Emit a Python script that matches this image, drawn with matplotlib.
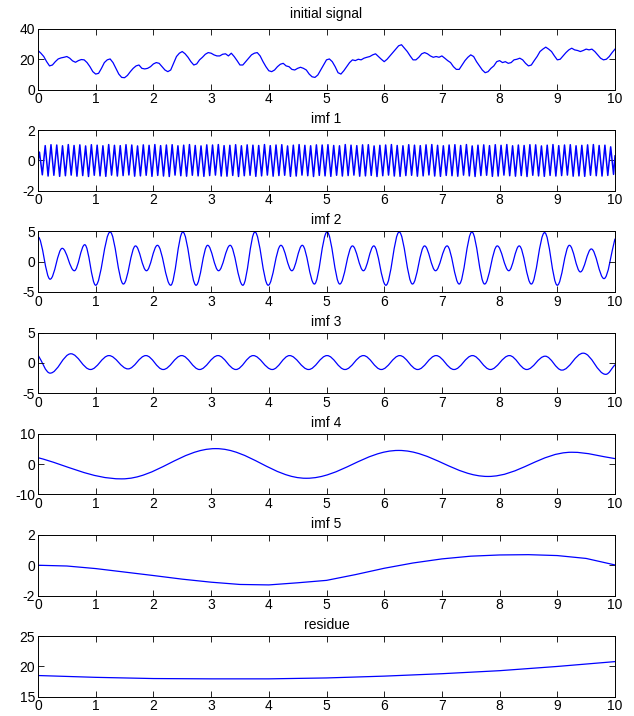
import numpy as np
import matplotlib
matplotlib.use("Agg")
import matplotlib.pyplot as plt
from matplotlib.path import Path
from matplotlib.patches import PathPatch

# ── Data ─────────────────────────────────────────────────────────────
# initial signal, sampled every 0.05 s
SIG_T = np.linspace(0, 10, 201)
SIG_V = [
    25.8, 24.0, 21.8, 18.4, 15.6, 16.2, 18.4, 20.2, 20.9, 21.3,
    21.8, 20.7, 18.9, 18.0, 19.1, 19.8, 19.6, 17.8, 15.1, 11.8,
    10.2, 10.7, 14.0, 17.8, 19.6, 20.2, 17.8, 14.0, 10.2, 8.0,
    7.8, 9.3, 11.8, 14.0, 15.6, 16.2, 14.0, 13.6, 14.0, 15.1,
    16.9, 17.8, 17.3, 15.1, 12.9, 11.8, 12.9, 17.3, 21.8, 24.0,
    25.1, 23.6, 21.3, 18.4, 16.2, 16.9, 19.6, 21.3, 23.3, 24.4,
    24.0, 22.9, 22.2, 22.2, 23.3, 23.6, 22.2, 24.0, 21.8, 19.1,
    16.2, 16.2, 18.4, 20.7, 22.9, 24.0, 24.4, 22.2, 18.4, 15.1,
    12.4, 11.8, 12.9, 15.1, 16.7, 17.3, 15.6, 15.1, 13.3, 12.9,
    14.0, 14.7, 14.0, 12.9, 10.2, 8.4, 8.0, 9.6, 12.9, 16.2,
    19.6, 20.2, 18.4, 15.1, 11.1, 10.2, 12.4, 15.1, 17.8, 19.6,
    19.1, 20.0, 19.6, 20.7, 21.3, 21.8, 22.9, 23.6, 21.8, 20.0,
    18.4, 20.0, 22.2, 24.4, 26.7, 28.9, 29.6, 27.3, 25.1, 22.2,
    19.6, 19.6, 21.3, 23.6, 24.4, 23.6, 22.2, 21.3, 21.8, 21.3,
    22.2, 20.7, 19.1, 17.8, 15.1, 13.3, 13.3, 16.2, 19.1, 21.3,
    22.9, 21.8, 18.4, 15.6, 12.9, 11.1, 11.8, 14.0, 15.6, 18.4,
    19.1, 17.8, 18.4, 17.3, 17.8, 19.6, 20.0, 20.7, 19.6, 17.3,
    15.6, 16.2, 19.1, 21.8, 25.1, 26.7, 28.0, 26.7, 25.1, 22.2,
    19.6, 20.0, 22.2, 24.4, 26.2, 27.3, 26.2, 25.8, 25.1, 25.8,
    26.7, 26.2, 26.7, 25.1, 22.9, 20.7, 19.6, 20.0, 21.8, 24.4,
    26.7,
]

# imf 1: alternating peak / trough values, one extremum every 0.05 s
IMF1_T = np.arange(200) * 0.05 + 0.025
IMF1_PEAKS = [
    0.55, 0.98, 1.04, 1.02, 0.97, 1.05, 0.99, 1.03, 0.96, 1.04,
    1.01, 0.97, 1.05, 1.00, 0.98, 1.04, 1.02, 0.96, 1.03, 1.00,
    1.05, 0.98, 1.02, 1.04, 0.97, 1.01, 1.05, 0.99, 0.96, 1.03,
    1.02, 1.05, 0.98, 1.00, 1.04, 0.97, 1.03, 1.01, 0.99, 1.05,
    0.98, 1.02, 1.04, 0.96, 1.01, 1.05, 1.00, 0.97, 1.03, 1.02,
    1.04, 0.99, 0.97, 1.05, 1.01, 0.98, 1.03, 1.04, 0.96, 1.00,
    1.02, 1.05, 0.99, 0.97, 1.04, 1.01, 0.98, 1.03, 1.05, 1.00,
    0.97, 1.02, 1.04, 0.99, 1.05, 0.96, 1.01, 1.03, 0.98, 1.04,
    1.00, 1.05, 0.97, 1.02, 0.99, 1.04, 1.03, 0.96, 1.01, 1.05,
    0.98, 1.02, 1.04, 0.97, 1.00, 1.03, 1.05, 0.99, 1.01, 0.90,
]
IMF1_TROUGHS = [
    -0.95, -1.03, -0.98, -1.05, -1.01, -0.97, -1.04, -1.00, -1.06, -0.98,
    -1.02, -1.05, -0.97, -1.03, -1.00, -0.96, -1.04, -1.02, -0.98, -1.05,
    -0.99, -1.03, -1.06, -0.97, -1.01, -1.04, -0.98, -1.02, -1.05, -1.00,
    -0.97, -1.03, -1.04, -0.99, -1.06, -1.01, -0.98, -1.05, -1.02, -0.97,
    -1.04, -1.00, -0.98, -1.05, -1.03, -0.97, -1.01, -1.06, -0.99, -1.02,
    -1.05, -0.98, -1.03, -1.00, -0.97, -1.04, -1.02, -0.99, -1.06, -1.01,
    -0.97, -1.03, -1.05, -1.00, -0.98, -1.04, -1.02, -0.96, -1.03, -1.05,
    -0.99, -1.01, -1.04, -0.97, -1.02, -1.06, -1.00, -0.98, -1.05, -1.03,
    -0.97, -1.01, -1.04, -1.00, -1.06, -0.98, -1.02, -1.05, -0.99, -1.03,
    -1.00, -0.97, -1.04, -1.02, -1.05, -0.98, -1.01, -1.03, -0.99, -0.92,
]

# imf 2: extrema (time, value) plus the two end points
IMF2_T = [0.00, 0.21, 0.42, 0.63, 0.81, 1.00, 1.25, 1.48, 1.69, 1.88,
          2.07, 2.30, 2.51, 2.74, 2.94, 3.13, 3.33, 3.55, 3.76, 3.99,
          4.21, 4.40, 4.58, 4.79, 5.01, 5.23, 5.45, 5.64, 5.82, 6.03,
          6.26, 6.49, 6.70, 6.89, 7.09, 7.30, 7.52, 7.74, 7.96, 8.16,
          8.34, 8.55, 8.78, 9.00, 9.21, 9.40, 9.59, 9.81, 10.0]
IMF2_V = [4.1, -2.9, 2.2, -1.5, 2.8, -3.9, 4.9, -3.7, 2.6, -1.5,
          2.7, -3.9, 4.9, -3.9, 2.7, -1.5, 2.7, -3.9, 4.9, -3.9,
          2.7, -1.5, 2.7, -3.7, 4.9, -3.7, 2.6, -1.5, 2.6, -3.9,
          4.9, -3.7, 2.6, -1.5, 2.6, -3.7, 4.9, -3.7, 2.6, -1.5,
          2.6, -3.7, 4.8, -3.9, 2.7, -1.7, 2.1, -2.8, 3.8]

# imf 3
IMF3_T = [0.00, 0.21, 0.57, 0.91, 1.23, 1.56, 1.87, 2.17, 2.49, 2.80,
          3.12, 3.43, 3.73, 4.06, 4.36, 4.69, 5.01, 5.32, 5.64, 5.95,
          6.27, 6.58, 6.90, 7.21, 7.53, 7.84, 8.17, 8.47, 8.79, 9.08,
          9.45, 9.84, 10.0]
IMF3_V = [1.3, -1.7, 1.5, -1.1, 1.2, -1.0, 1.2, -1.1, 1.2, -1.1,
          1.2, -1.1, 1.2, -1.1, 1.2, -1.1, 1.2, -1.1, 1.2, -1.1,
          1.2, -1.1, 1.2, -1.1, 1.2, -1.1, 1.2, -1.1, 1.1, -1.2,
          1.6, -1.9, -0.3]

# imf 4
IMF4_T = [0.0, 1.45, 3.08, 4.65, 6.25, 7.80, 9.25, 10.0]
IMF4_V = [2.1, -4.9, 5.1, -4.7, 4.5, -4.1, 3.9, 1.8]

# imf 5, sampled every 0.5 s
IMF5_T = np.linspace(0, 10, 21)
IMF5_V = [0.0, -0.05, -0.22, -0.45, -0.68, -0.92, -1.12, -1.27, -1.30, -1.16,
          -1.00, -0.62, -0.20, 0.15, 0.42, 0.60, 0.68, 0.70, 0.64, 0.45, 0.02]

# residue, sampled every 1 s
RES_T = np.arange(11)
RES_V = [18.5, 18.2, 18.0, 17.95, 17.95, 18.1, 18.4, 18.8, 19.3, 20.0, 20.8]

TITLES = ["initial signal", "imf 1", "imf 2", "imf 3", "imf 4", "imf 5", "residue"]
YLIMS  = [(0, 40), (-2, 2), (-5, 5), (-5, 5), (-10, 10), (-2, 2), (15, 25)]
LINE   = "#0000ff"

plt.rcParams["font.family"] = ["Liberation Sans", "DejaVu Sans"]


def smooth_extrema(ax, xs, ys, flat_start=False, k=0.364, **kw):
    """Bezier line through extrema with flat tangents at each extremum."""
    verts = [(xs[0], ys[0])]
    codes = [Path.MOVETO]
    last = len(xs) - 2
    for i in range(len(xs) - 1):
        x0, y0, x1, y1 = xs[i], ys[i], xs[i + 1], ys[i + 1]
        dx = x1 - x0
        if i == 0 and not flat_start:
            c1 = (x0 + dx / 3, y0 + (y1 - y0) / 3)
        else:
            c1 = (x0 + k * dx, y0)
        if i == last:
            c2 = (x1 - dx / 3, y1 - (y1 - y0) / 3)
        else:
            c2 = (x1 - k * dx, y1)
        verts += [c1, c2, (x1, y1)]
        codes += [Path.CURVE4] * 3
    ax.add_patch(PathPatch(Path(verts, codes), fill=False, **kw))


fig = plt.figure(figsize=(6.34, 7.16), dpi=100)
W, H = 634, 716
axes = []
for k in range(7):
    top = 29 + 101.2 * k
    ax = fig.add_axes([38 / W, 1 - (top + 60.5) / H, 577 / W, 60.5 / H])
    axes.append(ax)

lw = 0.9
axes[0].plot(SIG_T, SIG_V, color=LINE, lw=lw)

imf1 = np.empty(200)
imf1[0::2] = IMF1_PEAKS
imf1[1::2] = IMF1_TROUGHS
axes[1].plot(np.r_[0, IMF1_T, 10], np.r_[0.0, imf1, 0.3], color=LINE, lw=1.1)

smooth_extrema(axes[2], IMF2_T, IMF2_V, flat_start=True, edgecolor=LINE, lw=lw)
smooth_extrema(axes[3], IMF3_T, IMF3_V, edgecolor=LINE, lw=lw)
smooth_extrema(axes[4], IMF4_T, IMF4_V, edgecolor=LINE, lw=lw)
axes[5].plot(IMF5_T, IMF5_V, color=LINE, lw=lw)
axes[6].plot(RES_T, RES_V, color=LINE, lw=lw)

for i, (ax, title, ylim) in enumerate(zip(axes, TITLES, YLIMS)):
    ax.set_xlim(0, 10)
    ax.set_ylim(*ylim)
    ax.set_xticks(range(11))
    ax.set_yticks([ylim[0], (ylim[0] + ylim[1]) / 2, ylim[1]])
    ax.set_yticklabels([f"{v:g}" for v in ax.get_yticks()])
    ax.tick_params(direction="in", top=True, right=True, length=4, width=0.6,
                   labelsize=10, pad=2)
    for s in ax.spines.values():
        s.set_linewidth(0.7)
    ax.set_title(title, fontsize=10, pad=8 if i == 0 else 5)

fig.savefig("out.png", dpi=100, facecolor="white")
